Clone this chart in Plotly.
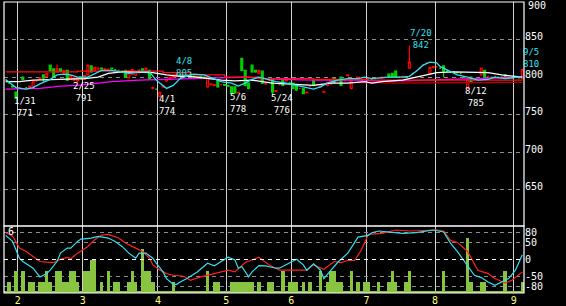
import pandas as pd
import plotly.graph_objects as go

# ---------------- data ----------------
holidays = ["2011-02-11", "2011-03-21", "2011-04-29", "2011-05-03",
            "2011-05-04", "2011-05-05", "2011-07-18"]
dates = [d for d in pd.bdate_range("2011-01-26", "2011-09-05")
         if d.strftime("%Y-%m-%d") not in holidays]
N = len(dates)
days = list(range(N))

open_ = [
    796, 792, 788, 780, 786, 800, 786, 786, 787, 795,
    798, 803, 801, 816, 811, 807, 811, 806, 809, 797,
    796, 795, 800, 797, 803, 815, 809, 811, 812, 810,
    811, 812, 810, 809, 808, 809, 799, 804, 803, 806,
    811, 808, 809, 785, 784, 774, 787, 795, 798, 800,
    802, 803, 802, 803, 802, 801, 800, 801, 800, 787,
    790, 789, 795, 790, 790, 789, 787, 787, 779, 825,
    809, 792, 816, 809, 805, 808, 791, 796, 797, 781,
    790, 798, 795, 793, 792, 790, 785, 785, 779, 788,
    796, 790, 787, 780, 789, 791, 798, 795, 800, 795,
    802, 785, 797, 797, 796, 797, 798, 797, 798, 799,
    799, 800, 804, 805, 808, 800, 800, 801, 812, 805,
    808, 812, 816, 819, 804, 813, 814, 812, 815, 808,
    807, 807, 806, 805, 800, 785, 800, 796, 798, 803,
    809, 801, 800, 801, 800, 801, 803, 800, 799, 800,
    799, 798]
high = [
    797, 793, 789, 781, 787, 800, 787, 789, 796, 796,
    799, 804, 806, 817, 812, 817, 812, 810, 810, 803,
    800, 800, 801, 803, 817, 816, 814, 812, 812, 811,
    812, 812, 811, 810, 809, 810, 809, 811, 808, 811,
    812, 813, 810, 787, 785, 781, 789, 797, 800, 803,
    805, 804, 803, 803, 803, 802, 801, 801, 800, 801,
    792, 790, 796, 791, 791, 790, 788, 788, 781, 826,
    810, 793, 817, 810, 810, 809, 793, 797, 798, 783,
    791, 799, 797, 794, 793, 791, 786, 786, 781, 789,
    797, 791, 789, 782, 794, 798, 799, 796, 801, 796,
    804, 799, 798, 801, 798, 798, 799, 798, 799, 800,
    800, 801, 805, 806, 809, 801, 801, 802, 842, 806,
    809, 813, 817, 820, 814, 815, 815, 813, 816, 809,
    808, 808, 807, 806, 801, 798, 801, 797, 799, 813,
    810, 802, 801, 802, 801, 802, 804, 801, 800, 801,
    800, 810]
low = [
    795, 791, 786, 771, 785, 796, 785, 784, 785, 794,
    797, 794, 800, 808, 800, 806, 807, 805, 795, 796,
    795, 791, 797, 796, 802, 806, 808, 810, 810, 809,
    810, 810, 809, 808, 807, 799, 798, 803, 802, 805,
    808, 807, 797, 784, 783, 774, 786, 794, 797, 799,
    801, 802, 801, 801, 801, 800, 799, 799, 798, 786,
    789, 788, 786, 789, 789, 787, 778, 778, 778, 808,
    788, 784, 806, 806, 804, 791, 790, 795, 776, 780,
    789, 788, 794, 792, 784, 782, 784, 777, 778, 787,
    788, 789, 786, 779, 788, 790, 792, 794, 788, 794,
    801, 784, 796, 796, 795, 796, 797, 796, 797, 798,
    798, 799, 799, 799, 799, 799, 799, 800, 811, 804,
    807, 811, 815, 818, 803, 812, 813, 811, 800, 807,
    806, 806, 805, 804, 799, 785, 792, 795, 797, 802,
    799, 800, 799, 800, 799, 800, 798, 799, 798, 799,
    798, 797]
close = [
    796, 792, 787, 772, 786, 797, 786, 788, 795, 795,
    799, 799, 805, 809, 801, 811, 808, 809, 796, 802,
    799, 799, 798, 802, 816, 807, 813, 812, 811, 811,
    811, 811, 810, 809, 808, 800, 808, 810, 807, 809,
    809, 812, 798, 786, 784, 780, 788, 797, 800, 803,
    804, 802, 803, 802, 801, 800, 801, 800, 799, 800,
    791, 790, 787, 790, 789, 788, 778, 779, 780, 809,
    789, 785, 807, 807, 809, 792, 792, 796, 780, 782,
    790, 789, 796, 793, 785, 783, 785, 778, 780, 788,
    789, 790, 788, 781, 793, 797, 793, 795, 789, 795,
    803, 796, 797, 800, 797, 797, 798, 797, 798, 799,
    800, 800, 800, 800, 800, 800, 801, 801, 820, 805,
    808, 812, 816, 819, 813, 814, 814, 812, 808, 808,
    807, 807, 806, 805, 800, 797, 793, 796, 798, 812,
    800, 801, 800, 801, 800, 801, 799, 800, 799, 800,
    799, 810]
volume = [
    150, 1000, 150, 2000, 150, 2000, 150, 1000, 1000, 150,
    1000, 1000, 2000, 1000, 150, 2000, 2000, 1000, 1000, 2000,
    2000, 1000, 150, 2000, 2000, 3000, 3000, 150, 1000, 150,
    2000, 150, 1000, 1000, 150, 150, 1000, 2000, 1000, 150,
    4000, 2000, 2000, 1000, 150, 150, 150, 150, 150, 1000,
    150, 150, 150, 150, 150, 150, 150, 150, 150, 2000,
    150, 1000, 1000, 150, 150, 150, 1000, 1000, 1000, 1000,
    1000, 1000, 1000, 150, 1000, 150, 150, 1000, 1000, 150,
    150, 2000, 150, 1000, 1000, 1000, 150, 1000, 150, 1000,
    150, 150, 2000, 150, 1000, 2000, 2000, 1000, 1000, 150,
    150, 2000, 150, 1000, 150, 1000, 1000, 150, 150, 1000,
    150, 150, 1000, 2000, 1000, 150, 150, 1000, 2000, 150,
    150, 150, 150, 150, 150, 150, 150, 150, 2000, 150,
    150, 150, 150, 150, 150, 5000, 1000, 150, 150, 1000,
    1000, 150, 150, 150, 150, 150, 2000, 150, 150, 150,
    150, 1000]
for arr in (open_, high, low, close, volume):
    assert len(arr) == N, len(arr)

# moving averages (day index, price)
ma_cyan_x = [0, 3, 6, 8, 10, 13, 15, 17, 19, 21, 24, 26, 28, 31, 34, 36, 39, 42, 44, 47,
             49, 51, 54, 55, 58, 61, 63, 66, 68, 70, 72, 74, 77, 79, 82, 85, 88, 90, 92, 94,
             97, 100, 103, 105, 107, 112, 116, 118, 120, 122, 124, 126, 127, 130, 132, 135,
             138, 141, 143, 146, 149, 151]
ma_cyan_y = [797, 786, 784, 786, 791, 797, 803, 804, 803, 800, 800, 805, 809, 809, 807, 805,
             807, 807, 796, 785, 789, 798, 803, 804, 803, 798, 794, 792, 788, 792, 797, 800,
             796, 794, 792, 789, 785, 784, 787, 792, 796, 798, 798, 800, 798, 800, 800, 801,
             808, 816, 820, 819, 814, 807, 803, 800, 796, 797, 800, 798, 800, 801]
ma_white_x = [0, 4, 8, 13, 18, 23, 27, 30, 34, 39, 43, 47, 51, 54, 59, 63, 67, 72, 78, 84,
              90, 95, 100, 105, 107, 110, 116, 121, 126, 131, 136, 141, 145, 151]
ma_white_y = [794, 794, 796, 797, 797, 798, 800, 805, 807, 807, 806, 803, 801, 801, 798, 796,
              795, 796, 792, 791, 789, 792, 792, 794, 792, 794, 796, 801, 806, 807, 807, 806,
              803, 800]
ma_mag_x = [0, 10, 16, 21, 27, 31, 39, 47, 54, 61, 70, 80, 90, 105, 107, 116, 123, 131, 141, 151]
ma_mag_y = [784, 785, 788, 789, 792, 794, 796, 797, 798, 798, 800, 797, 796, 796, 795, 795,
            796, 797, 798, 800]
ma_red_x = [0, 21, 46, 54, 64, 74, 90, 106, 125, 151]
ma_red_y = [807, 808, 806, 803, 800, 798, 797, 796, 796, 796]
ma_dred_x = [100, 115, 130, 151]
ma_dred_y = [793, 792, 792.5, 793]

# oscillator lines (day index, value)
osc_cyan_x = [0, 2, 4, 5, 8, 10, 12, 13, 15, 16, 18, 19, 21, 22, 25, 27, 30, 32, 34, 36, 38,
              39, 41, 43, 44, 46, 47, 49, 50, 51, 53, 56, 59, 61, 63, 65, 67, 68, 69, 71, 72,
              74, 76, 79, 80, 83, 85, 87, 88, 90, 92, 93, 95, 97, 100, 102, 103, 106, 107,
              109, 112, 116, 120, 125, 128, 130, 132, 135, 137, 139, 141, 143, 145, 147, 149,
              150, 151]
osc_cyan_y = [72, 54, 4, -6, -26, -52, -42, -32, -6, 19, 34, 34, 54, 61, 64, 69, 64, 54, 39,
              19, 4, 19, 19, 4, -11, -37, -57, -74, -74, -67, -57, -37, -11, -19, -6, 7, -1,
              -26, -21, -52, -37, -18, -19, -26, -26, -11, 1, -16, -32, -13, -32, -57, -32, -9,
              19, 49, 67, 72, 80, 85, 82, 78, 80, 88, 82, 49, 24, -21, -47, -54, -67, -77, -67,
              -57, -32, -6, 14]
osc_red_x = [0, 2, 4, 6, 8, 10, 12, 14, 16, 18, 19, 21, 24, 26, 28, 30, 33, 35, 38, 40, 42,
             43, 45, 47, 49, 52, 54, 57, 61, 65, 67, 70, 74, 77, 80, 84, 88, 90, 93, 96, 98,
             100, 102, 104, 106, 110, 114, 118, 126, 128, 130, 132, 135, 138, 141, 143, 146,
             148, 151]
osc_red_y = [80, 70, 34, 24, 9, -6, -8, -9, 1, 6, 2, 19, 39, 59, 73, 75, 64, 49, 34, 24, 4,
             -16, -31, -42, -47, -50, -62, -52, -42, -32, -37, -9, 7, -16, -32, -32, -32, -16,
             -29, -6, -9, -3, -3, 29, 75, 78, 88, 85, 88, 85, 57, 51, 24, -32, -42, -57, -70,
             -62, -37]

price_ticks = [900, 850, 800, 750, 700, 650]
osc_ticks = [80, 50, 0, -50, -80]

# peak / trough labels: (date, price, day position, price position, x shift px, colour)
labels = [
    ("1/31", "771", 5.7, 760.7, 0, "white"),
    ("2/25", "791", 23.0, 780.0, 0, "white"),
    ("4/1", "774", 47.0, 762.7, 0, "white"),
    ("4/8", "805", 52.0, 813.3, 0, "cyan"),
    ("5/6", "778", 68.0, 766.0, 0, "white"),
    ("5/24", "776", 80.9, 763.7, 0, "white"),
    ("7/20", "842", 121.5, 851.0, 0, "cyan"),
    ("8/12", "785", 137.6, 773.3, 0, "white"),
    ("9/5", "810", 151.0, 825.0, 9, "cyan"),
]

# month boundaries
month_start = [i for i in range(1, N) if dates[i].month != dates[i - 1].month]
month_pos = [i - 0.5 for i in month_start]
month_txt = [str(dates[i].month) for i in month_start]

# ---------------- figure ----------------
W, H = 566, 306
xd = [4 / W, 524 / W]
yd_up = [(H - 226) / H, (H - 2) / H]
yd_lo = [(H - 293) / H, (H - 226) / H]

CYAN = "#30e0f0"
fig = go.Figure()
fig.add_trace(go.Scatter(x=ma_mag_x, y=ma_mag_y, mode="lines",
                         line=dict(color="#ff00ff", width=1.3), xaxis="x", yaxis="y"))
fig.add_trace(go.Scatter(x=ma_dred_x, y=ma_dred_y, mode="lines",
                         line=dict(color="#b00000", width=1.3), xaxis="x", yaxis="y"))
fig.add_trace(go.Scatter(x=ma_red_x, y=ma_red_y, mode="lines", line_shape="hv",
                         line=dict(color="#ff1010", width=1.3), xaxis="x", yaxis="y"))
fig.add_trace(go.Scatter(x=ma_white_x, y=ma_white_y, mode="lines",
                         line=dict(color="#ffffff", width=1.3), xaxis="x", yaxis="y"))
fig.add_trace(go.Scatter(x=ma_cyan_x, y=ma_cyan_y, mode="lines",
                         line=dict(color=CYAN, width=1.3), xaxis="x", yaxis="y"))
fig.add_trace(go.Candlestick(
    x=days, open=open_, high=high, low=low, close=close, xaxis="x", yaxis="y",
    whiskerwidth=0,
    increasing=dict(line=dict(color="#ff0000", width=1.2), fillcolor="#000000"),
    decreasing=dict(line=dict(color="#00d000", width=1.2), fillcolor="#00d000"),
))
fig.add_trace(go.Bar(x=days, y=volume, marker=dict(color="#88c440", line=dict(width=0)),
                     xaxis="x2", yaxis="y2"))
fig.add_trace(go.Scatter(x=osc_red_x, y=osc_red_y, mode="lines",
                         line=dict(color="#ff2020", width=1.2), xaxis="x2", yaxis="y3"))
fig.add_trace(go.Scatter(x=osc_cyan_x, y=osc_cyan_y, mode="lines",
                         line=dict(color=CYAN, width=1.2), xaxis="x2", yaxis="y3"))

grid = "#d0d0d0"
dash_grid = "#8a8a8a"
font = dict(family="DejaVu Sans Mono", size=10, color="white")

fig.update_layout(
    width=W, height=H, margin=dict(l=0, r=0, t=0, b=0),
    paper_bgcolor="black", plot_bgcolor="black", showlegend=False,
    boxgap=0.2, bargap=0, font=font,
    xaxis=dict(domain=xd, range=[-0.5, N - 0.5], tickvals=month_pos, showticklabels=False,
               showgrid=True, gridcolor=grid, gridwidth=1, zeroline=False, ticks="",
               rangeslider=dict(visible=False), anchor="y", fixedrange=True),
    xaxis2=dict(domain=xd, range=[-0.5, N - 0.5], tickvals=month_pos, ticktext=month_txt,
                tickfont=dict(family="DejaVu Sans Mono", size=10, color="#ffff80"),
                showgrid=True, gridcolor=grid, gridwidth=1, zeroline=False, ticks="",
                anchor="y2", matches="x"),
    yaxis=dict(domain=yd_up, range=[601.3, 900.3], side="right", anchor="x",
               tickvals=price_ticks,
               ticktext=["" if v == 900 else str(v) for v in price_ticks],
               showgrid=True, gridcolor=dash_grid, griddash="4px,4px", gridwidth=1,
               zeroline=False, ticks="", ticklabelshift=-3),
    yaxis2=dict(domain=yd_lo, range=[0, 6090], anchor="x2", showgrid=False,
                showticklabels=False, zeroline=False, ticks=""),
    yaxis3=dict(overlaying="y2", anchor="x2", side="right", range=[-100, 100],
                tickvals=osc_ticks, ticktext=[str(v) for v in osc_ticks],
                showgrid=True, gridcolor=dash_grid, griddash="4px,4px", gridwidth=1,
                zeroline=False, ticks=""),
)

shapes = [
    dict(type="line", xref="x2 domain", yref="y3", x0=0, x1=1, y0=0, y1=0,
         line=dict(color="white", width=1, dash="4px,4px")),
    dict(type="rect", xref="x domain", yref="y domain", x0=0, x1=1, y0=0, y1=1,
         line=dict(color="white", width=1.2)),
    dict(type="rect", xref="x2 domain", yref="y2 domain", x0=0, x1=1, y0=0, y1=1,
         line=dict(color="white", width=1.2)),
]
fig.update_layout(shapes=shapes)

ann = []
for d_txt, p_txt, xp, yp, xs, col in labels:
    ann.append(dict(text=d_txt + "<br>" + p_txt, x=xp, y=yp, xref="x", yref="y",
                    xshift=xs, showarrow=False, xanchor="center", yanchor="middle",
                    align="center", borderpad=0,
                    font=dict(family="DejaVu Sans Mono", size=9,
                              color=CYAN if col == "cyan" else "white")))
# top price label (the tick at the very top edge of the axis)
ann.append(dict(text=str(price_ticks[0]), x=1, y=price_ticks[0], xref="x domain", yref="y",
                xanchor="left", yanchor="middle", xshift=2, yshift=-3, showarrow=False,
                font=font))
ann.append(dict(text="6", x=11 / W, y=(H - 231) / H, xref="paper", yref="paper",
                showarrow=False, xanchor="center", yanchor="middle",
                font=dict(family="DejaVu Sans Mono", size=10, color="white")))
fig.update_layout(annotations=ann)

fig.write_html("out.html")
